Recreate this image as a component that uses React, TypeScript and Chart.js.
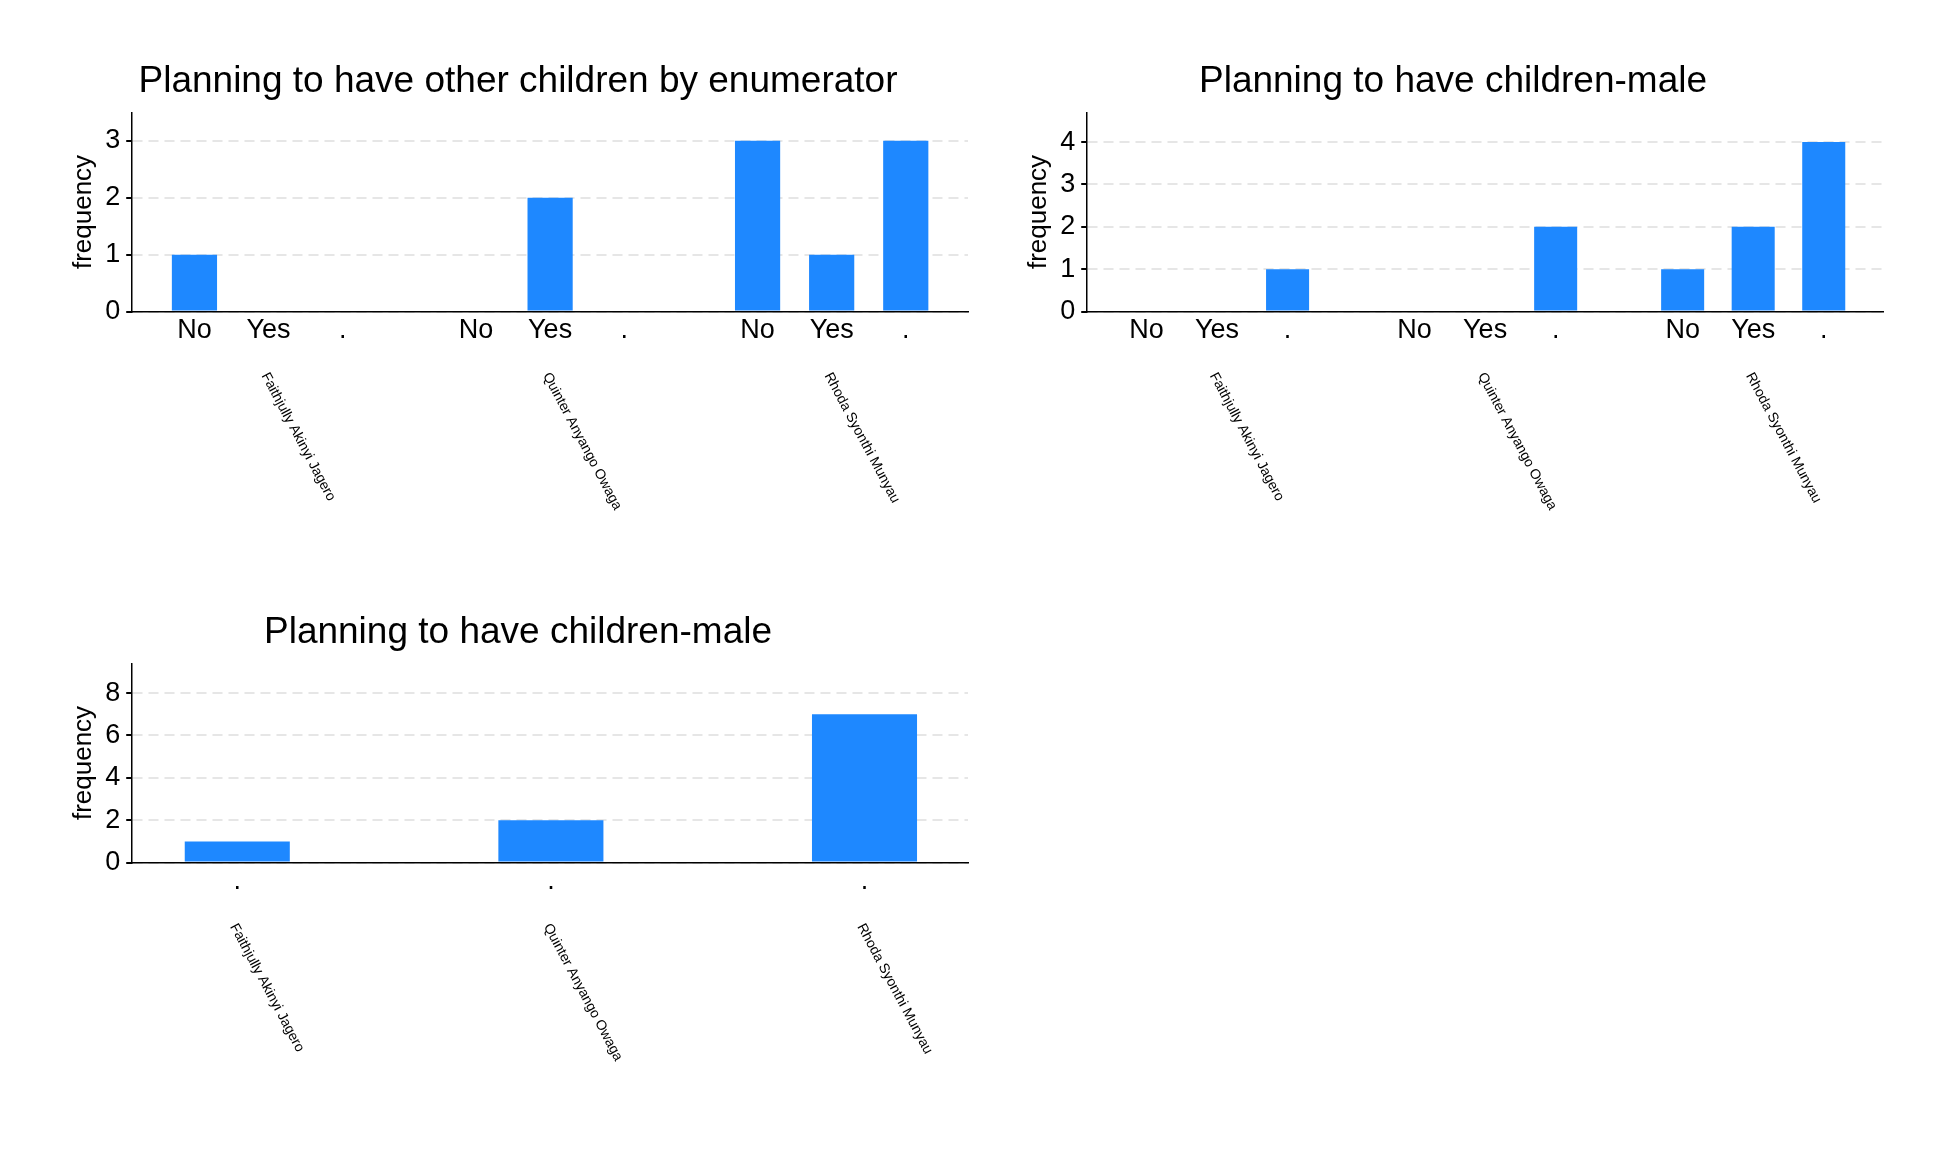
import { useEffect, useRef } from "react";
import Chart from "chart.js/auto";

const enumerators = ["Faithjully Akinyi Jagero", "Quinter Anyango Owaga", "Rhoda Syonthi Munyau"];
const answers = ["No", "Yes", "."];
const groupPositions = [0, 3.8, 7.6];

const otherChildren = [1, 0, 0, 0, 2, 0, 3, 1, 3];
const childrenMale = [0, 0, 1, 0, 0, 2, 1, 2, 4];
const totalMale = [1, 2, 7];

const BLUE = "#1e88ff";
const FONT = "'Liberation Sans', Arial, sans-serif";

type Panel = {
  title: string;
  values: number[];
  labels: string[];
  positions: number[];
  centers: number[];
  xMin: number;
  xMax: number;
  yMax: number;
  yStep: number;
  barFrac: number;
};

const threeWay = (values: number[]) => ({
  values,
  labels: enumerators.flatMap(() => answers),
  positions: groupPositions.flatMap((g) => [g, g + 1, g + 2]),
  centers: groupPositions.map((g) => g + 1),
});

function PanelChart({ p, style }: { p: Panel; style: React.CSSProperties }) {
  const ref = useRef<HTMLCanvasElement>(null);

  useEffect(() => {
    if (!ref.current) return;
    const names = {
      id: "names",
      afterDraw(chart: Chart) {
        const { ctx, chartArea } = chart;
        const x = chart.scales.x;
        ctx.save();
        ctx.font = `14px ${FONT}`;
        ctx.fillStyle = "#000";
        ctx.textAlign = "left";
        ctx.textBaseline = "middle";
        p.centers.forEach((c, i) => {
          ctx.save();
          ctx.translate(x.getPixelForValue(c) - 4, chartArea.bottom + 62);
          ctx.rotate((62 * Math.PI) / 180);
          ctx.fillText(enumerators[i], 0, 0);
          ctx.restore();
        });
        ctx.restore();
      },
    };

    const chart = new Chart(ref.current, {
      type: "bar",
      data: {
        datasets: [
          {
            data: p.positions.map((x, i) => ({ x, y: p.values[i] })),
            backgroundColor: BLUE,
            barPercentage: p.barFrac / 0.8,
            categoryPercentage: 0.8,
          },
        ],
      },
      options: {
        animation: false,
        responsive: false,
        layout: { padding: { left: 10, right: 10, top: 0, bottom: 210 } },
        plugins: {
          legend: { display: false },
          tooltip: { enabled: false },
          title: {
            display: true,
            text: p.title,
            color: "#000",
            font: { family: FONT, size: 37, weight: "normal" },
            padding: { top: 0, bottom: 8 },
          },
        },
        scales: {
          x: {
            type: "linear",
            offset: false,
            min: p.xMin,
            max: p.xMax,
            afterBuildTicks: (s) => {
              s.ticks = p.positions.map((v) => ({ value: v }));
            },
            ticks: {
              color: "#000",
              font: { family: FONT, size: 27 },
              maxRotation: 0,
              autoSkip: false,
              callback: (v) => p.labels[p.positions.indexOf(Number(v))] ?? "",
            },
            grid: { display: false, drawTicks: false },
            border: { color: "#000", width: 1.5 },
          },
          y: {
            min: 0,
            max: p.yMax,
            afterBuildTicks: (s) => {
              const t = [];
              for (let v = 0; v <= p.yMax; v += p.yStep) t.push({ value: v });
              s.ticks = t;
            },
            ticks: { color: "#000", font: { family: FONT, size: 27 }, padding: 6 },
            grid: { color: "#e6e6e6", lineWidth: 2, drawTicks: true, tickColor: "#000", tickLength: 6 },
            border: { color: "#000", width: 1.5, dash: [10, 6] },
            title: { display: true, text: "frequency", color: "#000", font: { family: FONT, size: 26 }, padding: 0 },
          },
        },
      },
      plugins: [names],
    });
    return () => chart.destroy();
  }, [p]);

  return <canvas ref={ref} width={style.width as number} height={style.height as number} style={{ position: "absolute", ...style }} />;
}

const panels: { p: Panel; style: React.CSSProperties }[] = [
  {
    p: { title: "Planning to have other children by enumerator", ...threeWay(otherChildren), xMin: -0.84, xMax: 10.44, yMax: 3.5, yStep: 1, barFrac: 0.61 },
    style: { left: 50, top: 52, width: 920, height: 500 },
  },
  {
    p: { title: "Planning to have children-male", ...threeWay(childrenMale), xMin: -0.84, xMax: 10.44, yMax: 4.7, yStep: 1, barFrac: 0.61 },
    style: { left: 1005, top: 52, width: 880, height: 500 },
  },
  {
    p: { title: "Planning to have children-male", values: totalMale, labels: [".", ".", "."], positions: [0, 1, 2], centers: [0, 1, 2], xMin: -0.335, xMax: 2.33, yMax: 9.4, yStep: 2, barFrac: 0.335 },
    style: { left: 50, top: 603, width: 920, height: 500 },
  },
];

export default function App() {
  return (
    <div style={{ position: "relative", width: 1918, height: 1144, background: "#fff" }}>
      {panels.map((x, i) => (
        <PanelChart key={i} p={x.p} style={x.style} />
      ))}
    </div>
  );
}
